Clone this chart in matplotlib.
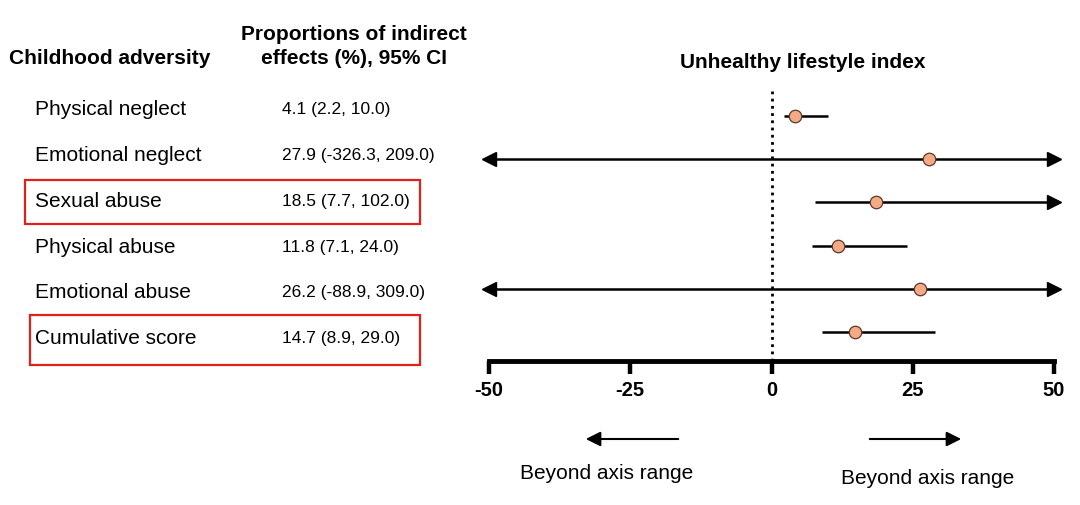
import matplotlib
matplotlib.use("Agg")
import matplotlib.pyplot as plt
from matplotlib.patches import Rectangle, FancyArrowPatch

plt.rcParams['font.family'] = ['Liberation Sans', 'DejaVu Sans']

categories = ["Physical neglect", "Emotional neglect", "Sexual abuse",
              "Physical abuse", "Emotional abuse", "Cumulative score"]
estimates = [4.1, 27.9, 18.5, 11.8, 26.2, 14.7]
lower = [2.2, -326.3, 7.7, 7.1, -88.9, 8.9]
upper = [10.0, 209.0, 102.0, 24.0, 309.0, 29.0]
highlighted = ["Sexual abuse", "Cumulative score"]
xticks = [-50, -25, 0, 25, 50]
xmin, xmax = -50, 50

W, H = 1080, 506
fig = plt.figure(figsize=(W / 100, H / 100), dpi=100)

def fx(px):
    return px / W

def fy(py):
    return 1 - py / H

ax_left, ax_right = 489, 1054
ax_top, ax_bottom = 90, 362
ax = fig.add_axes([fx(ax_left), fy(ax_bottom), fx(ax_right - ax_left), (ax_bottom - ax_top) / H])

n = len(categories)
row_px0, row_step = 117, 43.2
ylo = (ax_bottom - row_px0) / row_step
yhi = (ax_top - row_px0) / row_step
ax.set_ylim(ylo, yhi)
ax.set_xlim(xmin, xmax)

marker_fc = '#F4AA85'
for i, (est, lo, hi) in enumerate(zip(estimates, lower, upper)):
    lo_c = max(lo, xmin)
    hi_c = min(hi, xmax)
    ax.plot([lo_c, hi_c], [i, i], color='black', lw=1.8, solid_capstyle='butt', clip_on=False, zorder=3)
    if lo < xmin:
        ax.plot([xmin], [i], marker='<', color='black', ms=10, clip_on=False, zorder=3)
    if hi > xmax:
        ax.plot([xmax], [i], marker='>', color='black', ms=10, clip_on=False, zorder=3)
    ax.plot([est], [i], marker='o', ms=9, mfc=marker_fc, mec='#5a3a2a', mew=0.9, zorder=5, clip_on=False)

ax.axvline(0, color='black', ls=(0, (1, 1.6)), lw=2.0, zorder=2)

for s in ['top', 'right', 'left']:
    ax.spines[s].set_visible(False)
ax.spines['bottom'].set_linewidth(3.5)
ax.set_yticks([])
ax.set_xticks(xticks)
ax.set_xticklabels([str(t) for t in xticks], fontsize=14.5, fontweight='bold')
ax.tick_params(axis='x', direction='out', length=9, width=3.2, pad=5)

fig.text(fx(803), fy(62), "Unhealthy lifestyle index", ha='center', va='center',
         fontsize=15, fontweight='bold')

# table headers
fig.text(fx(110), fy(58), "Childhood adversity", ha='center', va='center',
         fontsize=15, fontweight='bold')
fig.text(fx(354), fy(35), "Proportions of indirect", ha='center', va='center',
         fontsize=15, fontweight='bold')
fig.text(fx(354), fy(58), "effects (%), 95% CI", ha='center', va='center',
         fontsize=15, fontweight='bold')

text_px0, text_step = 110, 45.7
for i, (cat, est, lo, hi) in enumerate(zip(categories, estimates, lower, upper)):
    ypx = text_px0 + i * text_step
    fig.text(fx(35), fy(ypx), cat, ha='left', va='center', fontsize=15)
    fig.text(fx(282), fy(ypx), f"{est:.1f} ({lo:.1f}, {hi:.1f})", ha='left', va='center', fontsize=12.5)

# red boxes
boxes = {"Sexual abuse": (25, 181, 420, 225), "Cumulative score": (30, 316, 420, 366)}
for name in highlighted:
    x0, y0, x1, y1 = boxes[name]
    fig.add_artist(Rectangle((fx(x0), fy(y1)), fx(x1 - x0), (y1 - y0) / H, fill=False,
                             edgecolor='#E0201B', lw=1.6, transform=fig.transFigure))

# beyond-axis-range arrows
fig.add_artist(FancyArrowPatch((fx(681), fy(440)), (fx(583), fy(440)),
               transform=fig.transFigure, arrowstyle='-|>', mutation_scale=22, lw=1.5, color='black'))
fig.add_artist(FancyArrowPatch((fx(867), fy(440)), (fx(964), fy(440)),
               transform=fig.transFigure, arrowstyle='-|>', mutation_scale=22, lw=1.5, color='black'))
fig.text(fx(607), fy(474), "Beyond axis range", ha='center', va='center', fontsize=15)
fig.text(fx(928), fy(479), "Beyond axis range", ha='center', va='center', fontsize=15)

fig.savefig("out.png", dpi=100)
